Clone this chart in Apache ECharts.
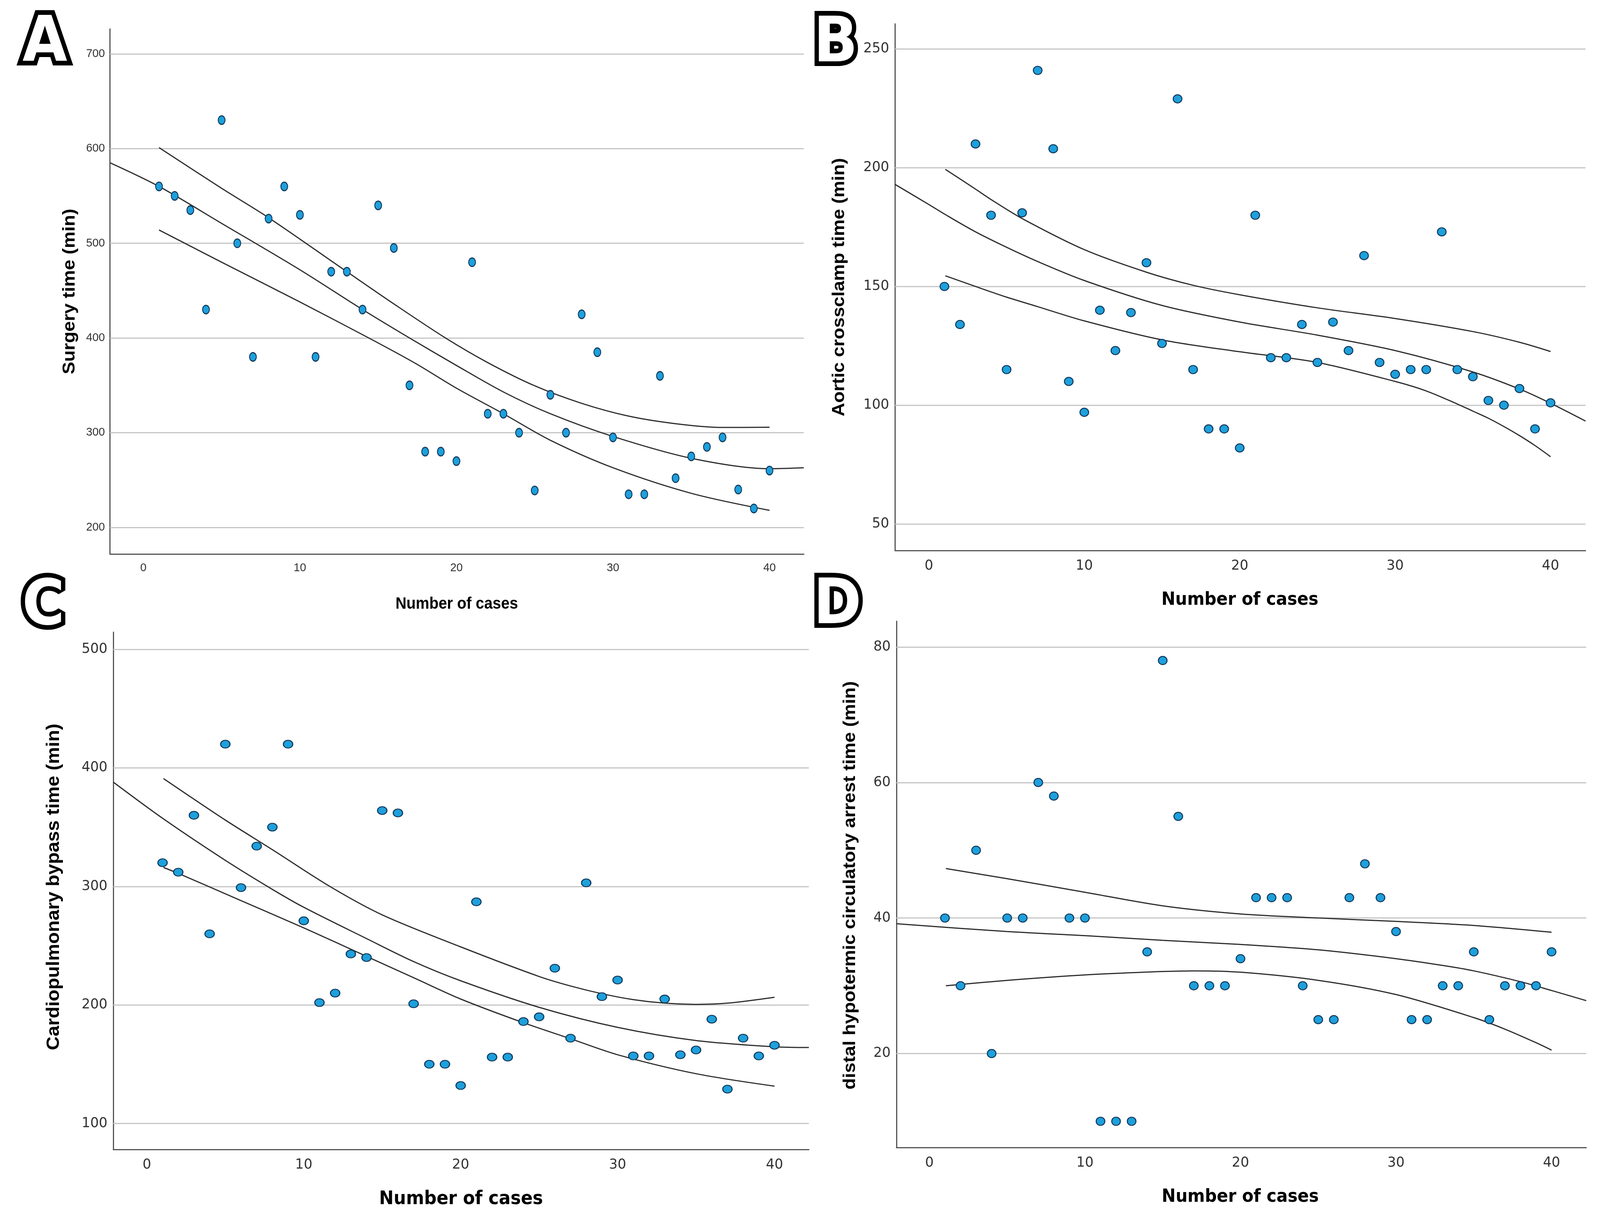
<!DOCTYPE html>
<html>
<head>
<meta charset="utf-8">
<script src="https://cdn.jsdelivr.net/npm/echarts@6/dist/echarts.min.js"></script>
<style>html,body{margin:0;padding:0;background:#fff;overflow:hidden}#c{width:100vw;height:100vh}</style>
</head>
<body>
<div id="c"></div>
<script>
// ---------- data ----------
const cases = [1,2,3,4,5,6,7,8,9,10,11,12,13,14,15,16,17,18,19,20,21,22,23,24,25,26,27,28,29,30,31,32,33,34,35,36,37,38,39,40];
const surgeryTime = [560,550,535,430,630,500,380,526,560,530,380,470,470,430,540,495,350,280,280,270,480,320,320,300,239,340,300,425,385,295,235,235,360,252,275,285,295,240,220,260];
const crossclampTime = [150,134,210,180,115,181,241,208,110,97,140,123,139,160,126,229,115,90,90,82,180,120,120,134,118,135,123,163,118,113,115,115,173,115,112,102,100,107,90,101];
const bypassTime = [320,312,360,260,420,299,334,350,420,271,202,210,243,240,364,362,201,150,150,132,287,156,156,186,190,231,172,303,207,221,157,157,205,158,162,188,129,172,157,166];
const arrestTime = [40,30,50,20,40,40,60,58,40,40,10,10,10,35,78,55,30,30,30,34,43,43,43,30,25,25,43,48,43,38,25,25,30,30,35,25,30,30,30,35];

// fit curves: [case number, minutes]
const surgeryFit = [[-2.13,585],[1,560],[5,521],[10,472],[14,430],[17,400],[20,371],[23,343],[26,320],[30,296],[35,273],[40,262],[42.19,263]];
const surgeryUpper = [[1,601],[5,558],[8,527],[13,470],[16,436],[19.3,400],[22,374],[25,349.5],[28,331],[31,317.5],[34,309.5],[37,305.5],[40,305.8]];
const surgeryLower = [[1,514],[5,480],[10,438],[14.4,400],[17.4,373],[20,347],[23,320],[26,292],[30,263],[35,236],[40,218]];

const clampFit = [[-2.18,193],[0,184.5],[1,180.5],[3,173],[5,166.5],[7,160.5],[10,152.5],[15,142],[20,135],[25,129.5],[30,123],[35,114],[38,106.8],[40,100.8],[42.25,93.3]];
const clampUpper = [[1.06,199.3],[3,191],[4,186.6],[6,178.6],[10,165.5],[14,156],[17,150.5],[20,146.5],[25,141],[30,136.5],[35,131],[38,126.5],[40,122.6]];
const clampLower = [[1.06,154.5],[3,150],[5,145.5],[7,141.5],[10,135.5],[15,127.5],[20,122.5],[25,118],[30,110],[32,106],[34,100.5],[35,97.5],[36,94.5],[37,91],[38,87.2],[39,83],[40,78.3]];

const bypassFit = [[-2.14,388],[1,357.5],[5,322],[8,297.5],[10,282.4],[14,256],[17,236.6],[20,220.4],[25,198],[30,181.1],[35,170],[40,164.7],[42.19,164.1]];
const bypassUpper = [[1.06,391],[5,356],[8,331],[11.66,300],[15,276],[20,249],[25,224],[27,216],[29,209.5],[31,204.5],[33,201.5],[35,200.5],[37,201.5],[40,206.5]];
const bypassLower = [[1.06,316],[2,311],[6,288],[10,265],[14,241],[17,223],[20,205],[24,185],[27,171.5],[30,158],[35,142],[40,131.5]];

const arrestFit = [[-2.12,39.15],[5,38],[10,37.4],[15,36.7],[20,36.1],[25,35.3],[30,34],[33,33],[35,32.2],[38,30.6],[40,29.3],[42.23,27.8]];
const arrestUpper = [[1.06,47.3],[5,45.8],[10,43.8],[15,41.8],[20,40.6],[25,40],[30,39.5],[35,38.9],[40,37.9]];
const arrestLower = [[1.06,30],[5,30.8],[10,31.6],[15,32.1],[17,32.2],[20,32],[25,30.8],[30,28.7],[35,25.3],[37,23.6],[39,21.6],[40,20.5]];

const xTicks = [0,10,20,30,40];
const yTicksA = [200,300,400,500,600,700];
const yTicksB = [50,100,150,200,250];
const yTicksC = [100,200,300,400,500];
const yTicksD = [20,40,60,80];

// ---------- layout (designed for 4421 x 3120, scaled to the real viewport) ----------
const W = window.innerWidth || 4421, H = window.innerHeight || 3120;
const kx = W / 4421, ky = H / 3120, km = (kx + ky) / 2;
const X = v => v * kx, Y = v => v * ky, M = v => v * km;

const chart = echarts.init(document.getElementById('c'), null, {renderer:'canvas', width:W, height:H});
const ellipse = 'path://M0,10A10,10,0,1,1,20,10A10,10,0,1,1,0,10Z';

const panels = [
  {g:[304,74,1917,1344], x:[-2.13,42.19], y:[171.9,726.3], yt:yTicksA, vals:surgeryTime, fit:surgeryFit, up:surgeryUpper, lo:surgeryLower, sym:[19,22], fs:30, ff:'Liberation Sans', ym:14, xm:22},
  {g:[2473,61,1908,1348], x:[-2.18,42.25], y:[38.8,260.6], yt:yTicksB, vals:crossclampTime, fit:clampFit, up:clampUpper, lo:clampLower, sym:[24,21], fs:36, ff:'DejaVu Sans', ym:16, xm:22},
  {g:[313,1618,1922,1324], x:[-2.14,42.19], y:[78.1,514.5], yt:yTicksC, vals:bypassTime, fit:bypassFit, up:bypassUpper, lo:bypassLower, sym:[26,20], fs:36, ff:'DejaVu Sans', ym:16, xm:22},
  {g:[2477,1590,1906,1347], x:[-2.12,42.23], y:[6.13,83.8], yt:yTicksD, vals:arrestTime, fit:arrestFit, up:arrestUpper, lo:arrestLower, sym:[24,21], fs:36, ff:'DejaVu Sans', ym:16, xm:22}
];

const grid = [], xAxis = [], yAxis = [], series = [];
panels.forEach((p, i) => {
  grid.push({left:X(p.g[0]), top:Y(p.g[1]), width:X(p.g[2]), height:Y(p.g[3])});
  const lbl = (ticks, m) => ({
    show:true, customValues:ticks, margin:m, fontSize:M(p.fs), fontFamily:p.ff, color:'#333',
    formatter: v => ticks.indexOf(Math.round(v*1000)/1000) >= 0 ? String(v) : ''
  });
  const axLine = {show:true, onZero:false, lineStyle:{color:'#555', width:3}};
  xAxis.push({type:'value', gridIndex:i, min:p.x[0], max:p.x[1], axisLine:axLine, axisTick:{show:false},
    splitLine:{show:false}, axisLabel:lbl(xTicks, Y(p.xm))});
  yAxis.push({type:'value', gridIndex:i, min:p.y[0], max:p.y[1], axisLine:axLine, axisTick:{show:false},
    splitLine:{show:false}, axisLabel:lbl(p.yt, X(p.ym))});
  const lineS = (d, withGrid) => {
    const s = {type:'line', xAxisIndex:i, yAxisIndex:i, data:d, smooth:0.3, showSymbol:false, symbol:'none',
      lineStyle:{color:'#2e2e2e', width:3}, z:2, silent:true, animation:false};
    if (withGrid) s.markLine = {silent:true, symbol:['none','none'], z:1, animation:false,
      label:{show:false}, lineStyle:{color:'#c6c6c6', width:3, type:'solid'},
      data:p.yt.map(v => ({yAxis:v}))};
    return s;
  };
  series.push(lineS(p.fit, true), lineS(p.up, false), lineS(p.lo, false));
  series.push({type:'scatter', xAxisIndex:i, yAxisIndex:i, z:4, animation:false,
    data:cases.map((c, k) => [c, p.vals[k]]), symbol:ellipse, symbolSize:[X(p.sym[0]), Y(p.sym[1])],
    itemStyle:{color:'#1ea0dc', borderColor:'#123a5c', borderWidth:2.5, opacity:1}});
});

const sx = kx / ky;
const letter = (t, x, y) => ([
  {type:'text', x:X(x), y:Y(y), scaleX:sx, z:10, silent:true, style:{text:t, textAlign:'center', textVerticalAlign:'middle', verticalAlign:'middle',
    font:'bold ' + Y(160) + 'px "DejaVu Sans"', fill:'#000', stroke:'#000', lineWidth:Y(24), lineJoin:'round'}},
  {type:'text', x:X(x), y:Y(y), scaleX:sx, z:11, silent:true, style:{text:t, textAlign:'center', textVerticalAlign:'middle', verticalAlign:'middle',
    font:'bold ' + Y(160) + 'px "DejaVu Sans"', fill:'#fff'}}
]);
const title = (t, x, y, vertical, size, fam) => ({type:'text', x:X(x), y:Y(y), z:10, silent:true,
  rotation: vertical ? Math.PI/2 : 0,
  scaleX: vertical ? 1 : sx, scaleY: vertical ? sx : 1,
  style:{text:t, textAlign:'center', textVerticalAlign:'middle', verticalAlign:'middle', font:'bold ' + Y(size) + 'px "' + fam + '"', fill:'#000'}});

const graphic = [].concat(
  letter('A',124,113), letter('B',2309,115), letter('C',120,1556), letter('D',2314,1553),
  [
    title('Surgery time (min)', 193, 746, true, 48, 'Liberation Sans'),
    title('Number of cases', 1262, 1546, false, 42, 'Liberation Sans'),
    title('Aortic crossclamp time (min)', 2319, 735, true, 48, 'Liberation Sans'),
    title('Number of cases', 3426, 1536, false, 46, 'DejaVu Sans'),
    title('Cardiopulmonary bypass time (min)', 149, 2270, true, 49, 'Liberation Sans'),
    title('Number of cases', 1274, 3070, false, 48, 'DejaVu Sans'),
    title('distal hypotermic circulatory arrest time (min)', 2349, 2266, true, 48, 'Liberation Sans'),
    title('Number of cases', 3427, 3064, false, 46, 'DejaVu Sans')
  ]
);

chart.setOption({backgroundColor:'#fff', animation:false, grid, xAxis, yAxis, series, graphic});
</script>
</body>
</html>
